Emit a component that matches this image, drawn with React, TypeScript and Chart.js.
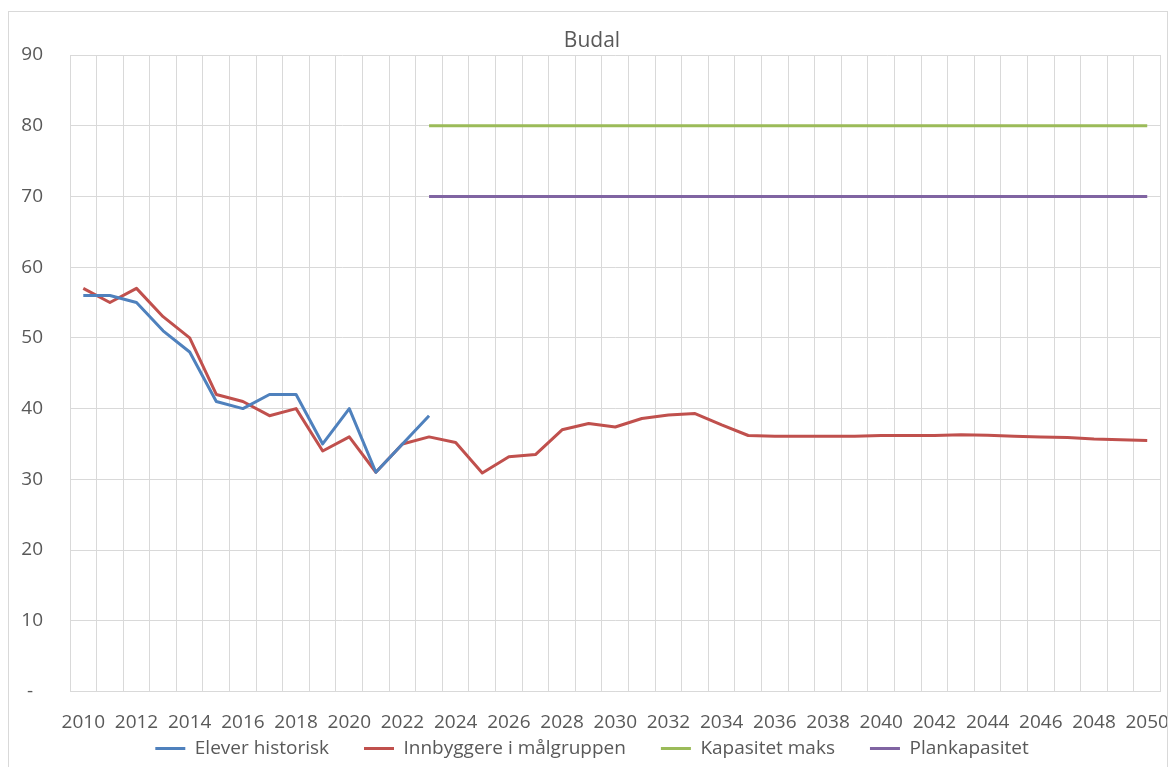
import React, { useEffect, useRef } from "react";
import { Chart, registerables } from "chart.js";

Chart.register(...registerables);

const years: string[] = [];
for (let y = 2010; y <= 2050; y++) years.push(String(y));

const eleverHistorisk: (number | null)[] = [
  56, 56, 55, 51, 48, 41, 40, 42, 42, 35, 40, 31, 35, 39,
];

const innbyggere: number[] = [
  57, 55, 57, 53, 50, 42, 41, 39, 40, 34, 36, 31, 35, 36,
  35.2, 30.9, 33.2, 33.5, 37.0, 37.9, 37.4, 38.6, 39.1, 39.3, 37.7, 36.2,
  36.1, 36.1, 36.1, 36.1, 36.2, 36.2, 36.2, 36.3, 36.25, 36.1, 36.0, 35.9,
  35.7, 35.6, 35.5,
];

const kapasitetMaks: (number | null)[] = years.map((y) => (Number(y) >= 2023 ? 80 : null));
const planKapasitet: (number | null)[] = years.map((y) => (Number(y) >= 2023 ? 70 : null));

const seriesNames = ["Elever historisk", "Innbyggere i målgruppen", "Kapasitet maks", "Plankapasitet"];
const seriesColors = ["#4F81BD", "#C0504D", "#9BBB59", "#8064A2"];

const FONT = "'Open Sans', sans-serif";
const TEXT = "#595959";
const GRID = "#d9d9d9";

export default function App() {
  const ref = useRef<HTMLCanvasElement | null>(null);
  useEffect(() => {
    if (!ref.current) return;
    const dataArrays = [eleverHistorisk, innbyggere, kapasitetMaks, planKapasitet];
    const chart = new Chart(ref.current, {
      type: "line",
      data: {
        labels: years,
        datasets: dataArrays.map((d, i) => ({
          label: seriesNames[i],
          data: d,
          borderColor: seriesColors[i],
          backgroundColor: seriesColors[i],
          borderWidth: 3,
          pointRadius: 0,
          pointHoverRadius: 0,
          tension: 0,
          spanGaps: false,
          borderJoinStyle: "round" as const,
        })),
      },
      options: {
        animation: false,
        responsive: true,
        maintainAspectRatio: false,
        layout: { padding: { left: 12, right: 4, top: 0, bottom: 2 } },
        plugins: {
          title: {
            display: true,
            text: "Budal",
            color: TEXT,
            font: { family: FONT, size: 21, weight: "normal" as const },
            padding: { top: 16.4, bottom: 1.4 },
          },
          legend: {
            position: "bottom",
            labels: {
              color: TEXT,
              font: { family: FONT, size: 19 },
              boxWidth: 30,
              boxHeight: 3,
              padding: 35,
              generateLabels: (c: any) =>
                c.data.datasets.map((ds: any, i: number) => ({
                  text: ds.label,
                  fillStyle: seriesColors[i],
                  strokeStyle: seriesColors[i],
                  lineWidth: 0,
                  hidden: false,
                  datasetIndex: i,
                  fontColor: TEXT,
                })),
            },
          },
          tooltip: { enabled: false },
        },
        scales: {
          x: {
            offset: true,
            grid: {
              color: GRID,
              offset: true,
              drawTicks: true,
              tickLength: 21.5,
              tickColor: "rgba(0,0,0,0)",
              lineWidth: 1,
            },
            border: { color: GRID },
            afterFit: (s: any) => {
              s.height = 12.5;
              s._computeLabelArea = () => undefined;
            },
            ticks: {
              color: TEXT,
              font: { family: FONT, size: 19 },
              autoSkip: false,
              maxRotation: 0,
              minRotation: 0,
              padding: -2,
              callback: (_v: any, idx: number) => (idx % 2 === 0 ? years[idx] : ""),
            },
          },
          y: {
            min: 0,
            max: 90,
            grid: { color: GRID, drawTicks: false, lineWidth: 1 },
            border: { display: false },
            afterFit: (s: any) => {
              s.width = 49;
              s._computeLabelArea = () => undefined;
            },
            ticks: {
              stepSize: 10,
              color: TEXT,
              font: { family: FONT, size: 19 },
              padding: 27,
              callback: (v: any) => (Number(v) === 0 ? "-  " : String(v)),
            },
          },
        },
      },
    });
    return () => chart.destroy();
  }, []);

  return (
    <div
      style={{
        position: "absolute",
        left: 8,
        top: 11,
        width: 1160,
        height: 760,
        border: "1px solid #d9d9d9",
        boxSizing: "border-box",
        background: "#fff",
      }}
    >
      <div style={{ position: "relative", width: 1158, height: 758 }}>
        <canvas ref={ref} />
      </div>
    </div>
  );
}
